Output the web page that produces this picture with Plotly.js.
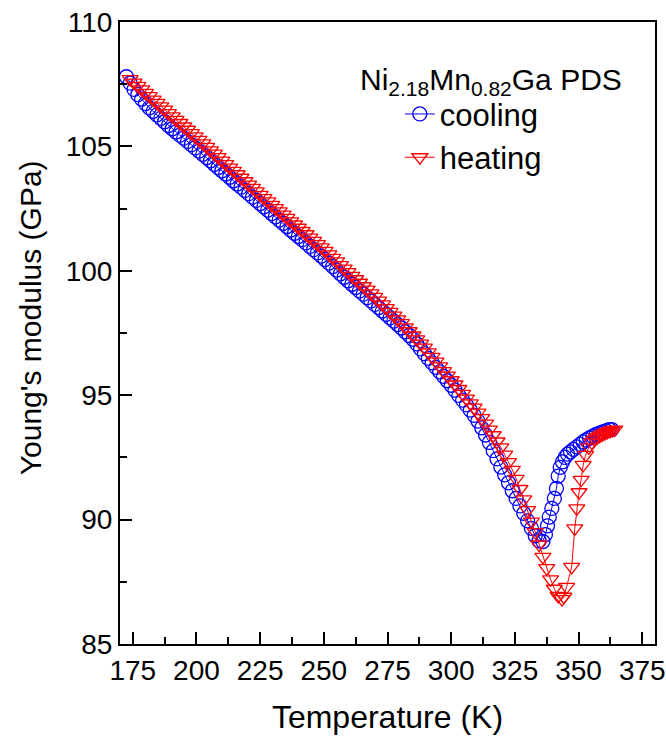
<!DOCTYPE html>
<html>
<head>
<meta charset="utf-8">
<script src="https://cdn.plot.ly/plotly-3.0.1.min.js"></script>
<style>html,body{margin:0;padding:0;background:#fff;}#plot{width:666px;height:736px;}</style>
</head>
<body>
<div id="plot"></div>
<script>
const tempCooling = [172.5,174,175.5,177,178.5,180,181.5,183,184.5,186,187.5,189,190.5,192,193.5,195,196.5,198,199.5,201,202.5,204,205.5,207,208.5,210,211.5,213,214.5,216,217.5,219,220.5,222,223.5,225,226.5,228,229.5,231,232.5,234,235.5,237,238.5,240,241.5,243,244.5,246,247.5,249,250.5,252,253.5,255,256.5,258,259.5,261,262.5,264,265.5,267,268.5,270,271.5,273,274.5,276,277.5,279,280.5,282,283.5,285,286.5,288,289.5,291,292.5,294,295.5,297,298.5,300,301.5,303,304.5,306,307.5,309,310.5,312,313.5,315,316.5,318,319.5,321,322.5,324,325.5,327,328.5,330,331.5,333,334.5,336,337,337.8,338.5,339.5,340.5,341.3,342,342.8,343.7,344.7,345.7,346.8,348,349.3,350.6,351.8,353,354.3,355.6,356.9,358.2,359.5,360.8,362,363];
const modulusCooling = [107.8,107.54,107.29,107.08,106.9,106.72,106.55,106.41,106.27,106.13,105.99,105.84,105.71,105.58,105.45,105.33,105.2,105.07,104.94,104.81,104.68,104.55,104.42,104.28,104.15,104.02,103.89,103.76,103.62,103.49,103.36,103.23,103.1,102.96,102.83,102.7,102.57,102.44,102.3,102.17,102.04,101.91,101.78,101.64,101.51,101.38,101.25,101.12,100.98,100.85,100.72,100.59,100.45,100.31,100.17,100.03,99.88,99.74,99.6,99.46,99.33,99.19,99.06,98.92,98.79,98.65,98.52,98.38,98.25,98.11,97.98,97.84,97.7,97.55,97.4,97.25,97.06,96.86,96.67,96.48,96.3,96.12,95.94,95.76,95.58,95.4,95.2,94.99,94.8,94.61,94.4,94.19,93.96,93.69,93.4,93.1,92.77,92.44,92.11,91.8,91.48,91.16,90.85,90.55,90.25,89.95,89.65,89.35,89.15,89.12,89.4,89.75,90.1,90.45,90.85,91.25,91.75,92.1,92.32,92.5,92.63,92.72,92.82,92.92,93.02,93.12,93.2,93.28,93.35,93.42,93.47,93.52,93.57,93.62,93.62];
const tempHeating = [174,175.5,177,178.5,180,181.5,183,184.5,186,187.5,189,190.5,192,193.5,195,196.5,198,199.5,201,202.5,204,205.5,207,208.5,210,211.5,213,214.5,216,217.5,219,220.5,222,223.5,225,226.5,228,229.5,231,232.5,234,235.5,237,238.5,240,241.5,243,244.5,246,247.5,249,250.5,252,253.5,255,256.5,258,259.5,261,262.5,264,265.5,267,268.5,270,271.5,273,274.5,276,277.5,279,280.5,282,283.5,285,286.5,288,289.5,291,292.5,294,295.5,297,298.5,300,301.5,303,304.5,306,307.5,309,310.5,312,313.5,315,316.5,318,319.5,321,322.5,324,325.5,327,328.5,330,331.5,333,334.5,336,337.5,339,340.5,342,343.5,344.2,345.3,347.3,348.5,349.3,350.2,351,351.8,352.8,354,355.2,356.3,357.3,358.3,359.3,360.3,361.3,362.3,363.3,364.2];
const modulusHeating = [107.7,107.56,107.43,107.29,107.15,107.02,106.88,106.75,106.61,106.48,106.34,106.21,106.07,105.94,105.8,105.67,105.53,105.4,105.26,105.12,104.98,104.84,104.71,104.57,104.43,104.29,104.15,104.02,103.88,103.74,103.6,103.46,103.33,103.19,103.05,102.92,102.79,102.65,102.52,102.39,102.26,102.13,101.99,101.86,101.73,101.6,101.47,101.33,101.2,101.07,100.94,100.8,100.66,100.52,100.38,100.23,100.09,99.95,99.8,99.66,99.52,99.38,99.24,99.09,98.95,98.8,98.65,98.5,98.35,98.2,98.05,97.9,97.73,97.57,97.4,97.24,97.07,96.91,96.72,96.54,96.35,96.16,95.97,95.79,95.6,95.43,95.25,95.05,94.86,94.67,94.5,94.3,94.08,93.86,93.62,93.39,93.14,92.9,92.61,92.31,92.0,91.64,91.23,90.81,90.38,89.92,89.5,89.0,88.5,88.05,87.6,87.22,86.93,86.8,86.9,87.3,88.1,89.65,90.45,91.1,91.6,92.2,92.6,92.9,93.1,93.22,93.3,93.36,93.42,93.47,93.52,93.56,93.6,93.62];
const seriesNames = ['cooling', 'heating'];
const legendTitle = 'Ni<sub>2.18</sub>Mn<sub>0.82</sub>Ga PDS';
const xTitle = 'Temperature (K)';
const yTitle = "Young's modulus (GPa)";

const FONT = 'Liberation Sans, Arial, Helvetica, sans-serif';
const traces = [
  {x: tempCooling, y: modulusCooling, name: seriesNames[0], type: 'scatter', mode: 'lines+markers',
   line: {color: '#0000ff', width: 1},
   marker: {symbol: 'circle-open', size: 14, color: '#0000ff', line: {color: '#0000ff', width: 1.3}}},
  {x: tempHeating, y: modulusHeating, name: seriesNames[1], type: 'scatter', mode: 'lines+markers',
   line: {color: '#ff0000', width: 1},
   marker: {symbol: 'triangle-down-open', size: 14, color: '#ff0000', line: {color: '#ff0000', width: 1.3}}}
];
const axisCommon = {
  ticks: 'inside', ticklen: 12, tickwidth: 2, tickcolor: '#000',
  showline: true, linewidth: 2, linecolor: '#000', mirror: true,
  showgrid: false, zeroline: false, tickfont: {size: 28, color: '#000', family: FONT}
};
const layout = {
  width: 666, height: 736,
  margin: {l: 120, r: 11, t: 22, b: 92},
  paper_bgcolor: '#fff', plot_bgcolor: '#fff',
  font: {family: FONT, color: '#000'},
  showlegend: true,
  legend: {x: 0.523, y: 0.895, xanchor: 'left', yanchor: 'top', font: {size: 31, family: FONT, color: '#000'},
           bgcolor: 'rgba(0,0,0,0)', borderwidth: 0, tracegroupgap: 0},
  xaxis: Object.assign({}, axisCommon, {
    range: [170, 380], tick0: 175, dtick: 25,
    minor: {tick0: 175, dtick: 12.5, ticks: 'inside', ticklen: 7, tickwidth: 2, tickcolor: '#000', showgrid: false},
    title: {text: xTitle, font: {size: 32, family: FONT, color: '#000'}, standoff: 21}
  }),
  yaxis: Object.assign({}, axisCommon, {
    range: [85, 110], tick0: 85, dtick: 5,
    minor: {tick0: 85, dtick: 2.5, ticks: 'inside', ticklen: 7, tickwidth: 2, tickcolor: '#000', showgrid: false}
  }),
  xaxis2: {overlaying: 'x', side: 'top', anchor: 'y', range: [170, 380], tick0: 175, dtick: 12.5,
           ticks: 'inside', ticklen: 3, tickwidth: 1.5, tickcolor: '#000', showticklabels: false,
           showline: false, showgrid: false, zeroline: false},
  yaxis2: {overlaying: 'y', side: 'right', anchor: 'x', range: [85, 110], tick0: 85, dtick: 2.5,
           ticks: 'inside', ticklen: 3, tickwidth: 1.5, tickcolor: '#000', showticklabels: false,
           showline: false, showgrid: false, zeroline: false},
  annotations: [
    {xref: 'paper', yref: 'paper', x: 0.445, y: 0.905, xanchor: 'left', yanchor: 'middle',
     text: legendTitle, showarrow: false, font: {size: 30, family: FONT, color: '#000'}},
    {xref: 'paper', yref: 'paper', x: -0.168, y: 0.524, xanchor: 'center', yanchor: 'middle', textangle: -90,
     text: yTitle, showarrow: false, font: {size: 30, family: FONT, color: '#000'}}
  ]
};
Plotly.newPlot('plot', traces, layout, {staticPlot: true, displayModeBar: false});
</script>
</body>
</html>
